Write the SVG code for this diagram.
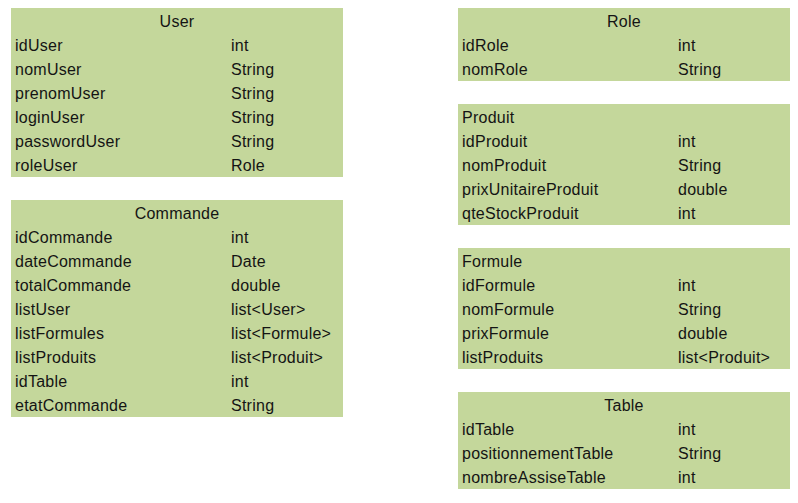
<svg xmlns="http://www.w3.org/2000/svg" width="798" height="503" viewBox="0 0 798 503">
<style>
.box{fill:#C4D79B;stroke:none}
text{font-family:"Liberation Sans",Arial,sans-serif;font-size:16px;letter-spacing:0.25px;fill:#141414}
.c{text-anchor:middle}
</style>
<rect width="798" height="503" fill="#FFFFFF"/>
<g id="User">
<rect class="box" x="11" y="8" width="332" height="169"/>
<text class="c" x="177" y="27">User</text>
<text x="15" y="51">idUser</text><text x="231" y="51">int</text>
<text x="15" y="75">nomUser</text><text x="231" y="75">String</text>
<text x="15" y="99">prenomUser</text><text x="231" y="99">String</text>
<text x="15" y="123">loginUser</text><text x="231" y="123">String</text>
<text x="15" y="147">passwordUser</text><text x="231" y="147">String</text>
<text x="15" y="171">roleUser</text><text x="231" y="171">Role</text>
</g>
<g id="Commande">
<rect class="box" x="11" y="200" width="332" height="217"/>
<text class="c" x="177" y="219">Commande</text>
<text x="15" y="243">idCommande</text><text x="231" y="243">int</text>
<text x="15" y="267">dateCommande</text><text x="231" y="267">Date</text>
<text x="15" y="291">totalCommande</text><text x="231" y="291">double</text>
<text x="15" y="315">listUser</text><text x="231" y="315">list&lt;User&gt;</text>
<text x="15" y="339">listFormules</text><text x="231" y="339">list&lt;Formule&gt;</text>
<text x="15" y="363">listProduits</text><text x="231" y="363">list&lt;Produit&gt;</text>
<text x="15" y="387">idTable</text><text x="231" y="387">int</text>
<text x="15" y="411">etatCommande</text><text x="231" y="411">String</text>
</g>
<g id="Role">
<rect class="box" x="458" y="8" width="332" height="73"/>
<text class="c" x="624" y="27">Role</text>
<text x="462" y="51">idRole</text><text x="678" y="51">int</text>
<text x="462" y="75">nomRole</text><text x="678" y="75">String</text>
</g>
<g id="Produit">
<rect class="box" x="458" y="104" width="332" height="121"/>
<text x="462" y="123">Produit</text>
<text x="462" y="147">idProduit</text><text x="678" y="147">int</text>
<text x="462" y="171">nomProduit</text><text x="678" y="171">String</text>
<text x="462" y="195">prixUnitaireProduit</text><text x="678" y="195">double</text>
<text x="462" y="219">qteStockProduit</text><text x="678" y="219">int</text>
</g>
<g id="Formule">
<rect class="box" x="458" y="248" width="332" height="121"/>
<text x="462" y="267">Formule</text>
<text x="462" y="291">idFormule</text><text x="678" y="291">int</text>
<text x="462" y="315">nomFormule</text><text x="678" y="315">String</text>
<text x="462" y="339">prixFormule</text><text x="678" y="339">double</text>
<text x="462" y="363">listProduits</text><text x="678" y="363">list&lt;Produit&gt;</text>
</g>
<g id="Table">
<rect class="box" x="458" y="392" width="332" height="97"/>
<text class="c" x="624" y="411">Table</text>
<text x="462" y="435">idTable</text><text x="678" y="435">int</text>
<text x="462" y="459">positionnementTable</text><text x="678" y="459">String</text>
<text x="462" y="483">nombreAssiseTable</text><text x="678" y="483">int</text>
</g>
<g id="connectors"/>
</svg>
